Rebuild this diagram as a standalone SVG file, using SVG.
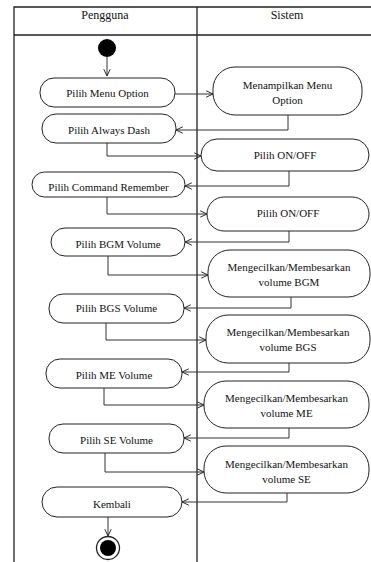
<svg xmlns="http://www.w3.org/2000/svg" width="371" height="562" viewBox="0 0 371 562">
<style>
.lane{fill:none;stroke:#222;stroke-width:1.3}
.act{fill:#fff;stroke:#222;stroke-width:1}
.t{font-family:'Liberation Serif','Times New Roman','DejaVu Serif',serif;font-size:11px;fill:#111;text-anchor:middle}
.h{font-family:'Liberation Serif','Times New Roman','DejaVu Serif',serif;font-size:12px;fill:#111;text-anchor:middle}
.c{fill:none;stroke:#333;stroke-width:1;marker-end:url(#ah)}
</style>
<defs>
<marker id="ah" viewBox="0 0 10 10" refX="9.5" refY="5" markerWidth="8" markerHeight="8" markerUnits="userSpaceOnUse" orient="auto">
<path d="M1,1 L9.5,5 L1,9" fill="none" stroke="#222" stroke-width="1.2"/>
</marker>
</defs>
<rect width="371" height="562" fill="#fff"/>
<g id="swimlanes">
<path class="lane" d="M14,562 V7 H375 M14,35 H375 M197,7 V562"/>
<text class="h" x="105" y="19">Pengguna</text>
<text class="h" x="287" y="19">Sistem</text>
</g>
<g id="start"><circle cx="107" cy="48" r="9" fill="#000"/></g>
<g id="a1"><rect class="act" x="40" y="78" width="135" height="29" rx="14"/><text class="t" x="107.5" y="97">Pilih Menu Option</text></g>
<g id="s1"><rect class="act" x="213" y="67" width="149" height="48" rx="22"/><text class="t" x="287.5" y="89">Menampilkan Menu</text><text class="t" x="287.5" y="104">Option</text></g>
<g id="a2"><rect class="act" x="42" y="114" width="134" height="29" rx="14"/><text class="t" x="109" y="134">Pilih Always Dash</text></g>
<g id="s2"><rect class="act" x="201" y="139" width="168" height="32" rx="16"/><text class="t" x="285" y="159">Pilih ON/OFF</text></g>
<g id="a3"><rect class="act" x="32" y="172" width="153" height="25" rx="12.5"/><text class="t" x="108.5" y="191">Pilih Command Remember</text></g>
<g id="s3"><rect class="act" x="207" y="197" width="162" height="34" rx="17"/><text class="t" x="288" y="217">Pilih ON/OFF</text></g>
<g id="a4"><rect class="act" x="51" y="228" width="134" height="28" rx="14"/><text class="t" x="118" y="248">Pilih BGM Volume</text></g>
<g id="s4"><rect class="act" x="208" y="250" width="162" height="47" rx="22"/><text class="t" x="289" y="271">Mengecilkan/Membesarkan</text><text class="t" x="289" y="286">volume BGM</text></g>
<g id="a5"><rect class="act" x="49" y="294" width="135" height="29" rx="14"/><text class="t" x="116.5" y="312">Pilih BGS Volume</text></g>
<g id="s5"><rect class="act" x="206" y="315" width="164" height="48" rx="22"/><text class="t" x="288" y="336">Mengecilkan/Membesarkan</text><text class="t" x="288" y="351">volume BGS</text></g>
<g id="a6"><rect class="act" x="46" y="359" width="136" height="29" rx="14"/><text class="t" x="114" y="379">Pilih ME Volume</text></g>
<g id="s6"><rect class="act" x="204" y="381" width="165" height="47" rx="22"/><text class="t" x="286.5" y="402">Mengecilkan/Membesarkan</text><text class="t" x="286.5" y="417">volume ME</text></g>
<g id="a7"><rect class="act" x="49" y="424" width="135" height="29" rx="14"/><text class="t" x="116.5" y="444">Pilih SE Volume</text></g>
<g id="s7"><rect class="act" x="204" y="446" width="165" height="47" rx="22"/><text class="t" x="286.5" y="468">Mengecilkan/Membesarkan</text><text class="t" x="286.5" y="483">volume SE</text></g>
<g id="a8"><rect class="act" x="42" y="487" width="140" height="30" rx="15"/><text class="t" x="112" y="508">Kembali</text></g>
<g id="end"><circle cx="108" cy="548" r="11.5" fill="#fff" stroke="#222" stroke-width="1.3"/><circle cx="108" cy="548" r="8" fill="#000"/></g>
<g id="connectors">
<path class="c" d="M107,57 V76"/>
<path class="c" d="M175,94 H213"/>
<path class="c" d="M288,115 V130 H176"/>
<path class="c" d="M107,143 V156 H201"/>
<path class="c" d="M289,171 V186 H185"/>
<path class="c" d="M107,197 V214 H207"/>
<path class="c" d="M289,231 V242 H185"/>
<path class="c" d="M108,256 V275 H208"/>
<path class="c" d="M291,297 V308 H184"/>
<path class="c" d="M106,323 V340 H206"/>
<path class="c" d="M289,363 V372 H182"/>
<path class="c" d="M104,388 V405 H204"/>
<path class="c" d="M289,428 V438 H184"/>
<path class="c" d="M105,453 V472 H204"/>
<path class="c" d="M287,493 V502 H182"/>
<path class="c" d="M108,517 V536"/>
</g>
</svg>
